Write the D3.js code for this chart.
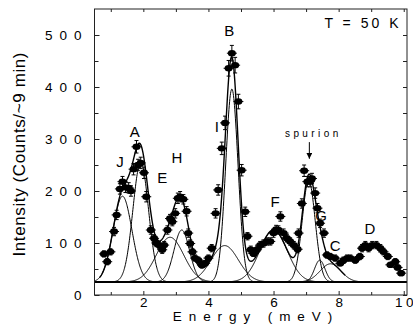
<!DOCTYPE html>
<html>
<head>
<meta charset="utf-8">
<script src="https://cdn.jsdelivr.net/npm/d3@7"></script>
<style>
  body { margin: 0; background: #fff; }
  svg text { font-family: "Liberation Sans", Arial, sans-serif; fill: #000; }
</style>
</head>
<body>
<svg id="chart" width="413" height="332"></svg>
<script>
// Measured spectrum: energy transfer (meV), counts and statistical errors
const energy = [0.79, 0.89, 0.99, 1.10, 1.18, 1.28, 1.36, 1.45, 1.55, 1.62, 1.70, 1.79, 1.84, 1.92,
  2.02, 2.09, 2.23, 2.33, 2.40, 2.48, 2.58, 2.64, 2.74, 2.82, 2.89, 2.98, 3.06, 3.13, 3.23, 3.33,
  3.38, 3.44, 3.51, 3.59, 3.69, 3.80, 3.90, 4.00, 4.10, 4.22, 4.30, 4.41, 4.51, 4.62, 4.72, 4.82,
  4.92, 5.02, 5.13, 5.20, 5.30, 5.38, 5.49, 5.59, 5.69, 5.80, 5.90, 6.00, 6.08, 6.15, 6.21, 6.31,
  6.41, 6.51, 6.62, 6.74, 6.77, 6.87, 6.94, 7.04, 7.12, 7.18, 7.28, 7.35, 7.43, 7.55, 7.64, 7.74,
  7.89, 8.05, 8.15, 8.26, 8.36, 8.51, 8.65, 8.72, 8.82, 8.92, 9.03, 9.16, 9.28, 9.38, 9.51, 9.59,
  9.74, 9.81, 9.92];
const counts = [79, 64, 83, 122, 154, 204, 218, 207, 206, 200, 242, 285, 250, 254,
  235, 189, 125, 109, 100, 96, 87, 96, 125, 147, 141, 157, 186, 189, 184, 161,
  119, 99, 83, 71, 67, 58, 61, 71, 90, 157, 202, 282, 331, 436, 465, 442,
  372, 240, 160, 113, 87, 80, 87, 96, 99, 103, 103, 119, 126, 125, 151, 119,
  109, 103, 96, 88, 119, 176, 239, 218, 218, 224, 196, 167, 138, 119, 77, 74,
  71, 61, 67, 71, 71, 67, 74, 90, 96, 90, 96, 96, 90, 83, 74, 58,
  64, 53, 42];
const errors = [6, 6, 6, 8, 9, 10, 10, 10, 10, 10, 11, 12, 11, 11,
  11, 10, 8, 7, 7, 7, 7, 7, 8, 8, 8, 9, 10, 10, 9, 9,
  8, 7, 6, 6, 6, 5, 5, 6, 7, 9, 10, 12, 13, 15, 15, 15,
  14, 11, 9, 7, 7, 6, 7, 7, 7, 7, 7, 8, 8, 8, 9, 8,
  7, 7, 7, 7, 8, 9, 11, 10, 10, 10, 10, 9, 8, 8, 6, 6,
  6, 5, 6, 6, 6, 6, 6, 7, 7, 7, 7, 7, 7, 6, 6, 5,
  6, 5, 5];

// Fitted Gaussian components on a flat background (counts)
const background = 25;
const peakNames  = ["J", "A", "E", "H", "I", "B", "F", "spurion", "G", "C"];
const peakCenter = [1.36, 1.92, 2.82, 3.18, 4.50, 4.72, 6.00, 7.08, 7.42, 7.75];
const peakAmp    = [165, 230, 86, 100, 70, 371, 100, 195, 42, 35];
const peakSigma  = [0.29, 0.24, 0.42, 0.24, 0.42, 0.19, 0.42, 0.20, 0.16, 0.32];
const fitRange   = [0.65, 8.2];

// Axis ticks
const xMajorTicks = [2, 4, 6, 8, 10];
const xMinorTicks = [1, 3, 5, 7, 9];
const yMajorTicks = [0, 100, 200, 300, 400, 500];
const yMinorTicks = [50, 150, 250, 350, 450];

// Peak annotations placed in data coordinates [text, energy, counts]
const annotations = [
  ["J", 1.28, 246], ["A", 1.74, 304], ["E", 2.58, 215], ["H", 3.03, 254],
  ["I", 4.26, 313], ["B", 4.64, 498], ["F", 6.05, 169], ["G", 7.46, 142],
  ["C", 7.89, 85], ["D", 8.96, 117]
];
const temperatureLabel = "T = 50 K";

const svg = d3.select("#chart");
const plotL = 94.5, plotR = 407, plotT = 9, plotB = 295;

const x = d3.scaleLinear().domain([0.5, 10.1]).range([plotL, plotR]);
const y = d3.scaleLinear().domain([0, 550]).range([plotB, plotT]);

// Spread the glyphs of a text element apart without trailing space
function spaceOut(sel, s) {
  sel.each(function () {
    const n = this.textContent.length;
    d3.select(this).attr("dx", [0].concat(d3.range(n - 1).map(() => s)).join(" "));
  });
}

const gauss = (e, i) => peakAmp[i] * Math.exp(-((e - peakCenter[i]) ** 2) / (2 * peakSigma[i] ** 2));
const sampleE = d3.range(x.domain()[0] + 0.02, x.domain()[1] - 0.02, 0.01);

svg.append("clipPath").attr("id", "plotArea")
  .append("rect").attr("x", plotL).attr("y", plotT).attr("width", plotR - plotL).attr("height", plotB - plotT);

const plot = svg.append("g").attr("clip-path", "url(#plotArea)");

// Background level
plot.append("line")
  .attr("x1", plotL).attr("x2", plotR)
  .attr("y1", y(background)).attr("y2", y(background))
  .attr("stroke", "#000").attr("stroke-width", 2);

// Individual components
const line = d3.line().x(d => x(d[0])).y(d => y(d[1]));
peakNames.forEach((name, i) => {
  const pts = sampleE.map(e => [e, background + gauss(e, i)]);
  plot.append("path").attr("d", line(pts))
    .attr("fill", "none").attr("stroke", "#000").attr("stroke-width", 1);
});

// Total fit
const fitE = sampleE.filter(e => e >= fitRange[0] && e <= fitRange[1]);
const fitPts = fitE.map(e => [e, background + d3.sum(peakNames, (n, i) => gauss(e, i))]);
plot.append("path").attr("d", line(fitPts))
  .attr("fill", "none").attr("stroke", "#000").attr("stroke-width", 1.4);

// Data points with error bars
const pts = plot.append("g");
energy.forEach((e, i) => {
  const cx = x(e), cy = y(counts[i]);
  const yt = y(counts[i] + errors[i]), yb = y(counts[i] - errors[i]);
  pts.append("line").attr("x1", cx).attr("x2", cx).attr("y1", yt).attr("y2", yb)
    .attr("stroke", "#000").attr("stroke-width", 1);
  pts.append("line").attr("x1", cx - 2).attr("x2", cx + 2).attr("y1", yt).attr("y2", yt)
    .attr("stroke", "#000").attr("stroke-width", 1);
  pts.append("line").attr("x1", cx - 2).attr("x2", cx + 2).attr("y1", yb).attr("y2", yb)
    .attr("stroke", "#000").attr("stroke-width", 1);
  pts.append("line").attr("x1", cx - 5).attr("x2", cx + 5).attr("y1", cy).attr("y2", cy)
    .attr("stroke", "#000").attr("stroke-width", 1);
  pts.append("ellipse").attr("cx", cx).attr("cy", cy).attr("rx", 4).attr("ry", 3.2)
    .attr("fill", "#000");
});

// Frame
svg.append("rect").attr("x", plotL).attr("y", plotT)
  .attr("width", plotR - plotL).attr("height", plotB - plotT)
  .attr("fill", "none").attr("stroke", "#222").attr("stroke-width", 1);

// Axes with inward ticks
function styleAxis(g) {
  g.select(".domain").remove();
  g.selectAll(".tick line").attr("stroke", "#222");
  g.selectAll("text").style("font-size", "13.5px").style("font-family", null);
}

svg.append("g").attr("transform", `translate(0,${plotB})`)
  .call(d3.axisBottom(x).tickValues(xMajorTicks).tickSize(-4).tickPadding(2).tickFormat(d3.format("d")))
  .call(styleAxis)
  .selectAll("text").call(spaceOut, 3.5);
svg.append("g").attr("transform", `translate(0,${plotB})`)
  .call(d3.axisBottom(x).tickValues(xMinorTicks).tickSize(-3).tickFormat(""))
  .call(styleAxis);
svg.append("g").attr("transform", `translate(0,${plotT})`)
  .call(d3.axisTop(x).tickValues(xMajorTicks.concat(xMinorTicks)).tickSize(-3).tickFormat(""))
  .call(styleAxis);

svg.append("g").attr("transform", `translate(${plotL},0)`)
  .call(d3.axisLeft(y).tickValues(yMajorTicks).tickSize(-5).tickPadding(13).tickFormat(d3.format("d")))
  .call(styleAxis)
  .selectAll("text").call(spaceOut, 7);
svg.append("g").attr("transform", `translate(${plotL},0)`)
  .call(d3.axisLeft(y).tickValues(yMinorTicks).tickSize(-4).tickFormat(""))
  .call(styleAxis);
svg.append("g").attr("transform", `translate(${plotR},0)`)
  .call(d3.axisRight(y).tickValues(yMajorTicks.concat(yMinorTicks)).tickSize(-4).tickFormat(""))
  .call(styleAxis);

// Axis titles
svg.append("text")
  .attr("x", 252.5).attr("y", 320.5)
  .attr("text-anchor", "middle")
  .style("font-size", "13.5px")
  .text("Energy (meV)")
  .call(spaceOut, 6.9);
svg.append("text")
  .attr("transform", "translate(25,154.5) rotate(-90)")
  .attr("text-anchor", "middle")
  .style("font-size", "17px")
  .text("Intensity (Counts/~9 min)")
  .call(spaceOut, 0.6);

// Peak labels
svg.selectAll("text.peak").data(annotations).join("text")
  .attr("class", "peak")
  .attr("x", d => x(d[1])).attr("y", d => y(d[2]))
  .attr("text-anchor", "middle")
  .style("font-size", "15px")
  .text(d => d[0]);

// Spurion marker
svg.append("text")
  .attr("x", x(7.17)).attr("y", y(304))
  .attr("text-anchor", "middle")
  .style("font-size", "10px")
  .text("spurion")
  .call(spaceOut, 3.4);
svg.append("defs").append("marker")
  .attr("id", "arrowHead").attr("viewBox", "0 0 10 10")
  .attr("refX", 10).attr("refY", 5)
  .attr("markerWidth", 6).attr("markerHeight", 6)
  .attr("markerUnits", "userSpaceOnUse")
  .attr("orient", "auto")
  .append("path").attr("d", "M0,0L10,5L0,10z").attr("fill", "#000");
svg.append("line")
  .attr("x1", x(7.10)).attr("x2", x(7.10))
  .attr("y1", y(294)).attr("y2", y(262))
  .attr("stroke", "#000").attr("stroke-width", 1)
  .attr("marker-end", "url(#arrowHead)");

// Temperature
svg.append("text")
  .attr("x", 398.5).attr("y", y(513))
  .attr("text-anchor", "end")
  .style("font-size", "14px")
  .text(temperatureLabel)
  .call(spaceOut, 3);
</script>
</body>
</html>
